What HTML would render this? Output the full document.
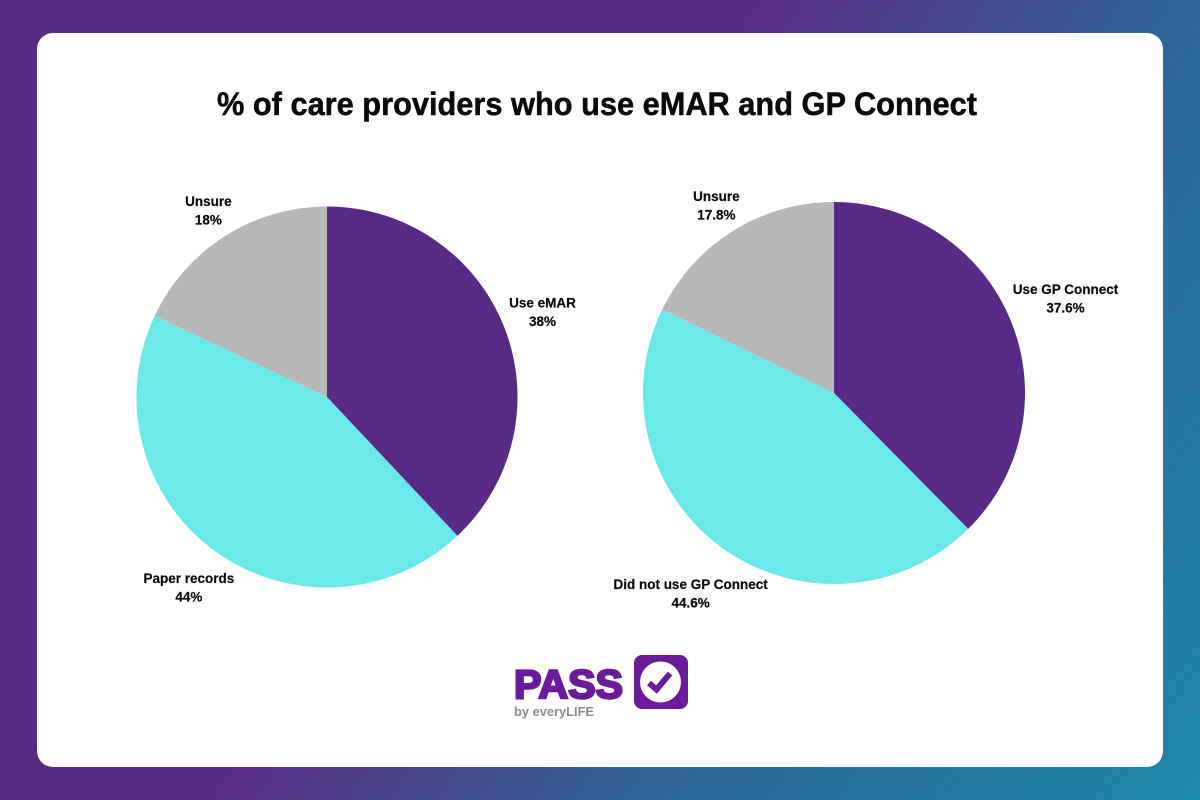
<!DOCTYPE html>
<html lang="en">
<head>
<meta charset="utf-8">
<title>% of care providers who use eMAR and GP Connect</title>
<style>
  html, body { margin: 0; padding: 0; }
  body { width: 1200px; height: 800px; overflow: hidden; position: relative;
         background: linear-gradient(124.5deg, #5a2a82 0%, #5a2a82 43%, #2e6698 68.6%, #1c88a8 100%);
         font-family: "Liberation Sans", sans-serif; }
  #card { position: absolute; left: 37px; top: 33px; width: 1126px; height: 734px;
          background: #fff; border-radius: 16px; }
  svg { position: absolute; left: 0; top: 0; }
  .lbl { font: bold 13.5px "Liberation Sans", sans-serif; fill: #0a0a0a; stroke: #0a0a0a; stroke-width: 0.2; text-anchor: middle; }
</style>
</head>
<body>
<div id="card"></div>
<svg id="chart" width="1200" height="800" viewBox="0 0 1200 800">
  <text x="597" y="115" text-anchor="middle" textLength="760" lengthAdjust="spacingAndGlyphs" font-family="'Liberation Sans', sans-serif" font-weight="bold" font-size="32" fill="#0a0a0a" stroke="#0a0a0a" stroke-width="0.5">% of care providers who use eMAR and GP Connect</text>
  <g id="pies"></g>
  <g>
    <text x="514" y="698" textLength="109" lengthAdjust="spacingAndGlyphs" font-family="'Liberation Sans', sans-serif" font-weight="bold" font-size="40" fill="#6a1b9a" stroke="#6a1b9a" stroke-width="2.4">PASS</text>
    <text x="514" y="716" textLength="80" lengthAdjust="spacingAndGlyphs" font-family="'Liberation Sans', sans-serif" font-weight="bold" font-size="13" fill="#8c8c8c">by everyLIFE</text>
    <rect x="634" y="655" width="54" height="54" rx="8" fill="#6a1b9a"></rect>
    <circle cx="660.5" cy="682" r="20.5" fill="#fff"></circle>
    <path d="M649 683 L656.5 689.5 L670 673.5" fill="none" stroke="#6a1b9a" stroke-width="6"></path>
  </g>
</svg>
<script>
const emarCategories = ["Use eMAR", "Paper records", "Unsure"];
const emarValues = [38, 44, 18];
const gpCategories = ["Use GP Connect", "Did not use GP Connect", "Unsure"];
const gpValues = [37.6, 44.6, 17.8];
const sliceColors = ["#582a85", "#6be8ea", "#b8b8b8"];

const NS = "http://www.w3.org/2000/svg";
const piesGroup = document.getElementById("pies");

function polar(cx, cy, r, deg) {
  const a = deg * Math.PI / 180;
  return [cx + r * Math.sin(a), cy - r * Math.cos(a)];
}

function drawPie(cx, cy, radius, categories, values) {
  const total = values.reduce(function (s, v) { return s + v; }, 0);
  let start = 0;
  values.forEach(function (value, i) {
    const sweep = value / total * 360;
    const end = start + sweep;
    const p0 = polar(cx, cy, radius, start);
    const p1 = polar(cx, cy, radius, end);
    const slice = document.createElementNS(NS, "path");
    slice.setAttribute("d", "M" + cx + " " + cy + " L" + p0[0] + " " + p0[1] +
      " A" + radius + " " + radius + " 0 " + (sweep > 180 ? 1 : 0) + " 1 " + p1[0] + " " + p1[1] + " Z");
    slice.setAttribute("fill", sliceColors[i]);
    
    
    piesGroup.appendChild(slice);

    const mid = start + sweep / 2;
    const label = document.createElementNS(NS, "text");
    label.setAttribute("class", "lbl");
    
    
    const line1 = document.createElementNS(NS, "tspan");
    line1.textContent = categories[i];
    const line2 = document.createElementNS(NS, "tspan");
    line2.textContent = value + "%";
    label.appendChild(line1);
    label.appendChild(line2);
    piesGroup.appendChild(label);

    const halfWidth = Math.min(line1.getComputedTextLength() / 2, 64);
    const rad = mid * Math.PI / 180;
    const labelR = radius + 4 + Math.abs(Math.sin(rad)) * halfWidth + Math.abs(Math.cos(rad)) * 17;
    const c = polar(cx, cy, labelR, mid);
    line1.setAttribute("x", c[0]);
    line1.setAttribute("y", c[1] - 4);
    line2.setAttribute("x", c[0]);
    line2.setAttribute("y", c[1] + 14.5);
    start = end;
  });
}

drawPie(327, 397, 190.5, emarCategories, emarValues);
drawPie(834, 393, 191, gpCategories, gpValues);
</script>
</body>
</html>
